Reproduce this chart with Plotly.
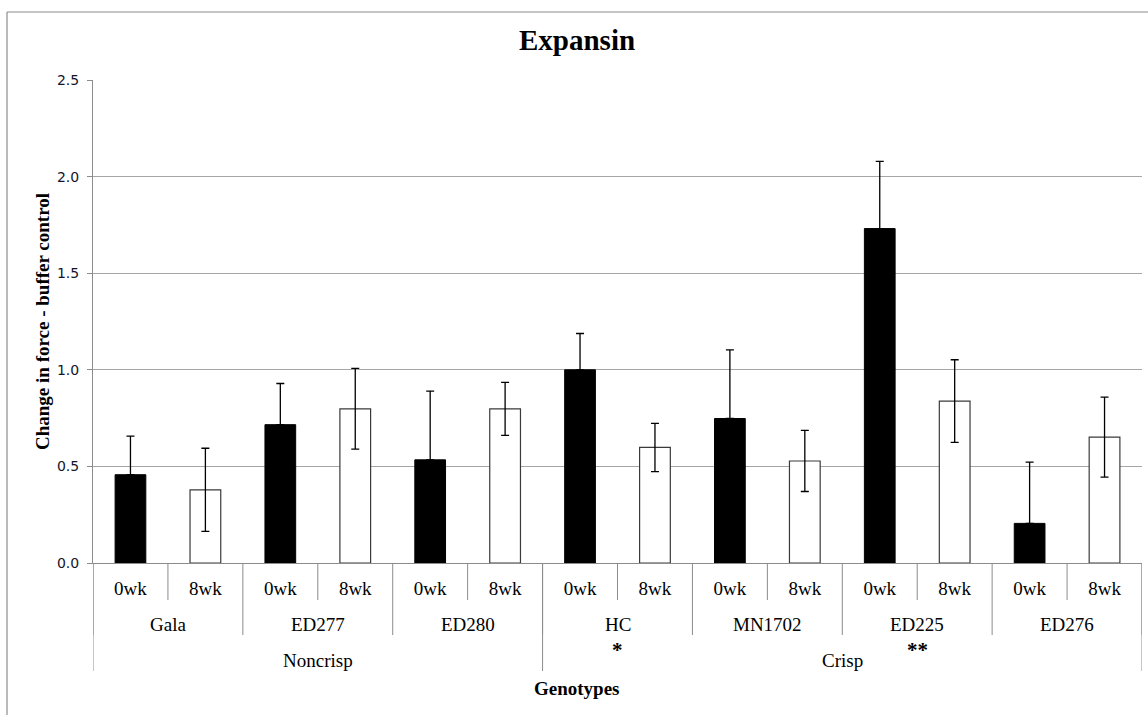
import plotly.graph_objects as go

# ---- data ----
genotypes = ["Gala", "ED277", "ED280", "HC", "MN1702", "ED225", "ED276"]
groups = ["Noncrisp", "Crisp"]
group_sizes = [3, 4]
weeks = ["0wk", "8wk"]
vals_0wk = [0.457, 0.716, 0.534, 1.00, 0.748, 1.731, 0.205]
err_0wk = [0.20, 0.213, 0.356, 0.188, 0.355, 0.348, 0.317]
vals_8wk = [0.379, 0.798, 0.798, 0.598, 0.528, 0.838, 0.652]
err_8wk = [0.215, 0.209, 0.137, 0.125, 0.158, 0.214, 0.207]
significance = {"HC": "*", "ED225": "**"}
y_ticks = [0.0, 0.5, 1.0, 1.5, 2.0, 2.5]

n = len(genotypes)
x0 = [2 * i for i in range(n)]
x8 = [2 * i + 1 for i in range(n)]

# layout geometry (pixels)
W, H = 1148, 715
L, R, T, B = 93, 6, 80, 152
PW, PH = W - L - R, H - T - B


def py(ypix):
    return (H - B - ypix) / PH


def px(xpix):
    return (xpix - L) / PW


SERIF = "Liberation Serif"

fig = go.Figure()
fig.add_trace(go.Bar(
    x=x0, y=vals_0wk, width=0.41, name="0wk",
    marker=dict(color="black", line=dict(color="black", width=1)),
    error_y=dict(type="data", array=err_0wk, arrayminus=[0] * n, symmetric=False,
                 color="black", thickness=1.3, width=4),
))
fig.add_trace(go.Bar(
    x=x8, y=vals_8wk, width=0.41, name="8wk",
    marker=dict(color="white", line=dict(color="#3a3a3a", width=1.2)),
    error_y=dict(type="data", array=err_8wk, color="black", thickness=1.3, width=4),
))

shapes = []
annotations = []
line_col = "#8c8c8c"
# week dividers
for k in range(2 * n + 1):
    if k % 2 == 1:
        shapes.append(dict(type="line", xref="x", yref="paper", x0=k - 0.5, x1=k - 0.5,
                           y0=0, y1=py(600), line=dict(color=line_col, width=1)))
# genotype dividers
for i in range(n + 1):
    xb = 2 * i - 0.5
    shapes.append(dict(type="line", xref="x", yref="paper", x0=xb, x1=xb,
                       y0=0, y1=py(635), line=dict(color=line_col, width=1)))
# group dividers
start = 0
bounds = [0]
for s in group_sizes:
    start += s
    bounds.append(start)
for b in bounds:
    xb = 2 * b - 0.5
    shapes.append(dict(type="line", xref="x", yref="paper", x0=xb, x1=xb,
                       y0=0, y1=py(671), line=dict(color=line_col, width=1)))

# genotype labels
for i, g in enumerate(genotypes):
    annotations.append(dict(x=2 * i + 0.5, xref="x", y=py(624), yref="paper", text=g,
                            showarrow=False, xanchor="center", yanchor="middle",
                            font=dict(family=SERIF, size=19, color="black")))
    if g in significance:
        annotations.append(dict(x=2 * i + 0.5, xref="x", y=py(650), yref="paper",
                                text="<b>" + significance[g] + "</b>", showarrow=False,
                                xanchor="center", yanchor="middle",
                                font=dict(family=SERIF, size=21, color="black")))
# group labels
for gi, gname in enumerate(groups):
    a, b = bounds[gi], bounds[gi + 1]
    annotations.append(dict(x=(2 * a - 0.5 + 2 * b - 0.5) / 2, xref="x", y=py(660), yref="paper",
                            text=gname, showarrow=False, xanchor="center", yanchor="middle",
                            font=dict(family=SERIF, size=19, color="black")))

annotations.append(dict(x=px(577), xref="paper", y=py(688), yref="paper", text="<b>Genotypes</b>",
                        showarrow=False, xanchor="center", yanchor="middle",
                        font=dict(family=SERIF, size=19, color="black")))
annotations.append(dict(x=px(42), xref="paper", y=py(322), yref="paper",
                        text="<b>Change in force - buffer control</b>", textangle=-90,
                        showarrow=False, xanchor="center", yanchor="middle",
                        font=dict(family=SERIF, size=19, color="black")))
annotations.append(dict(x=px(577), xref="paper", y=py(40), yref="paper", text="<b>Expansin</b>",
                        showarrow=False, xanchor="center", yanchor="middle",
                        font=dict(family=SERIF, size=29, color="black")))

# outer frame (left and top)
shapes.append(dict(type="line", xref="paper", yref="paper", x0=px(7), x1=px(7),
                   y0=py(12), y1=py(720), line=dict(color="#8c8c8c", width=1.2)))
shapes.append(dict(type="line", xref="paper", yref="paper", x0=px(7), x1=px(1150),
                   y0=py(12), y1=py(12), line=dict(color="#8c8c8c", width=1.2)))

fig.update_layout(
    width=W, height=H,
    margin=dict(l=L, r=R, t=T, b=B),
    paper_bgcolor="white", plot_bgcolor="white",
    barmode="overlay", showlegend=False,
    shapes=shapes, annotations=annotations,
    xaxis=dict(range=[-0.5, 2 * n - 0.5], tickvals=x0 + x8,
               ticktext=[weeks[0]] * n + [weeks[1]] * n,
               tickfont=dict(family=SERIF, size=19, color="black"),
               ticks="", ticklabelstandoff=8, showgrid=False, zeroline=False,
               showline=True, linecolor=line_col, linewidth=1),
    yaxis=dict(range=[0, 2.5], tickvals=y_ticks, ticktext=["%.1f" % v for v in y_ticks],
               tickfont=dict(family="DejaVu Sans", size=14, color="#15152a"),
               ticks="outside", ticklen=5, tickcolor=line_col, ticklabelstandoff=5,
               showgrid=True, gridcolor="#a6a6a6", gridwidth=1,
               zeroline=False, showline=True, linecolor=line_col, linewidth=1),
)

fig.write_html("out.html", config={"displayModeBar": False},
               post_script="document.body.style.margin='0';document.body.style.overflow='hidden';")
